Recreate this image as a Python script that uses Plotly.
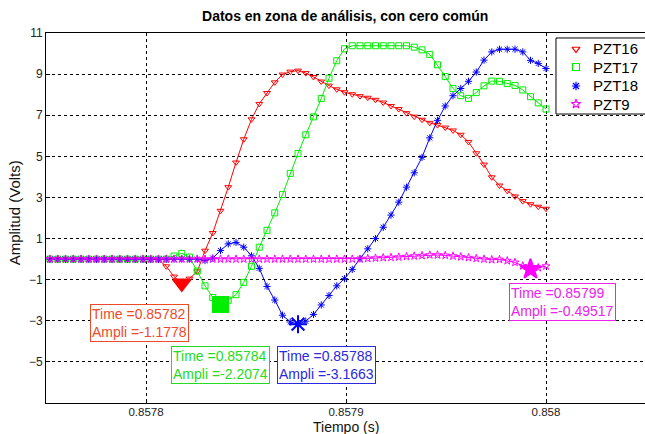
import plotly.graph_objects as go

# ---------------- data ----------------
t_end = 0.858          # last sample time (s)
dt = 3.875e-6          # sampling interval (s)
n_samples = 65

pzt16 = [0.0] * 14 + [
    -0.02, -0.35, -0.85, -1.1778, -0.95, -0.6, 0.41, 1.27, 2.35, 3.5,
    4.7, 5.83, 6.8, 7.55, 8.08, 8.6, 8.98, 9.12, 9.17, 9.05,
    8.86, 8.64, 8.44, 8.26, 8.12, 8.02, 7.93, 7.85, 7.75, 7.62,
    7.45, 7.3, 7.1, 6.93, 6.78, 6.63, 6.52, 6.4, 6.26, 6.05,
    5.7, 5.15, 4.6, 3.98, 3.58, 3.32, 3.05, 2.82, 2.67, 2.55,
    2.45]
pzt17 = [0.0] * 16 + [
    0.15, 0.28, 0.1, -0.58, -1.3, -1.87, -2.2074, -2.0, -1.73, -1.13,
    -0.35, 0.58, 1.4, 2.25, 3.14, 4.17, 5.14, 6.05, 6.92, 7.81,
    8.8, 9.65, 10.23] + [10.38] * 8 + [
    10.31, 10.18, 9.96, 9.45, 8.88, 8.3, 7.95, 7.82, 8.1, 8.43,
    8.66, 8.65, 8.54, 8.45, 8.23, 7.9, 7.6, 7.3]
pzt18 = [0.0] * 20 + [
    -0.07, 0.05, 0.42, 0.74, 0.81, 0.58, 0.16, -0.45, -1.33, -1.99,
    -2.73, -3.06, -3.1663, -3.02, -2.69, -2.23, -1.77, -1.3, -0.95, -0.5,
    0.02, 0.5, 1.0, 1.55, 2.14, 2.77, 3.5, 4.2, 4.95, 5.9,
    6.75, 7.45, 7.95, 8.3, 8.65, 9.1, 9.68, 10.08, 10.21, 10.21,
    10.21, 10.08, 9.67, 9.52, 9.27]
pzt9 = [0.0] * 41 + [
    0.03, 0.05, 0.07, 0.08, 0.1, 0.12, 0.15, 0.17, 0.2, 0.2,
    0.18, 0.15, 0.11, 0.07, 0.03, 0.0, -0.03, -0.02, -0.08, -0.16,
    -0.33, -0.49517, -0.42, -0.34]

time = [t_end - (n_samples - 1 - k) * dt for k in range(n_samples)]

series_names = ["PZT16", "PZT17", "PZT18", "PZT9"]
series_values = [pzt16, pzt17, pzt18, pzt9]
series_colors = ["#ff0000", "#00ee00", "#0000ff", "#ff00ff"]
small_symbols = ["triangle-down-open", "square-open", "asterisk-open", "star-open"]
big_symbols = ["triangle-down", "square", "asterisk-open", "star"]

# data tips (sample index of each marked point) and their labels
tip_index = [17, 22, 32, 62]
tip_time_text = ["0.85782", "0.85784", "0.85788", "0.85799"]
tip_ampl_text = ["-1.1778", "-2.2074", "-3.1663", "-0.49517"]
tip_text_colors = ["#ee4a2a", "#22dd22", "#2a2ae0", "#ee22ee"]
# label box anchor (top-left corner) in data units
tip_box_x = [0.857772, 0.8578125, 0.8578655, 0.8579815]
tip_box_y = [-2.18, -4.23, -4.23, -1.16]

x_range = [0.85775, 0.8580495]
y_range = [-7, 11]
x_ticks = [0.8578, 0.8579, 0.858]
x_tick_text = ["0.8578", "0.8579", "0.858"]
y_ticks = [-5, -3, -1, 1, 3, 5, 7, 9, 11]

# manual legend layout (fractions of the plot area)
legend_box = dict(x0=0.8514, x1=1.002, y0=0.781, y1=0.9865)
legend_marker_x = 0.8848
legend_text_x = 0.9098
legend_rows_y = [0.9568, 0.9081, 0.8568, 0.8081]

FONT = "Liberation Sans, Arial, sans-serif"


def fx(f):
    return x_range[0] + f * (x_range[1] - x_range[0])


def fy(f):
    return y_range[0] + f * (y_range[1] - y_range[0])


fig = go.Figure()

for name, vals, col, sym in zip(series_names, series_values, series_colors, small_symbols):
    fig.add_trace(go.Scatter(
        x=time, y=vals, mode="lines+markers", name=name, showlegend=False,
        line=dict(color=col, width=1),
        marker=dict(symbol=sym, size=6, color=col, line=dict(color=col, width=1)),
    ))

for vals, col, sym, idx in zip(series_values, series_colors, big_symbols, tip_index):
    fig.add_trace(go.Scatter(
        x=[time[idx]], y=[vals[idx]], mode="markers", showlegend=False,
        marker=dict(symbol=sym, size=15, color=col, line=dict(color=col, width=2)),
    ))

# legend box (white, over the grid, under the traces)
fig.add_shape(type="rect", xref="x", yref="y", layer="between",
              x0=fx(legend_box["x0"]), x1=fx(legend_box["x1"]),
              y0=fy(legend_box["y0"]), y1=fy(legend_box["y1"]),
              line=dict(color="black", width=1), fillcolor="white")

# legend markers on an invisible overlay axis in plot-area fractions
for name, col, sym, ly in zip(series_names, series_colors, small_symbols, legend_rows_y):
    fig.add_trace(go.Scatter(
        x=[legend_marker_x], y=[ly], xaxis="x2", yaxis="y2", mode="markers",
        showlegend=False, cliponaxis=False, hoverinfo="skip",
        marker=dict(symbol=sym, size=7, color=col, line=dict(color=col, width=1.2)),
    ))
    fig.add_annotation(x=legend_text_x, y=ly, xref="paper", yref="paper",
                       showarrow=False, xanchor="left", yanchor="middle",
                       text=name, font=dict(family=FONT, size=15, color="black"))

for i in range(4):
    fig.add_annotation(
        x=tip_box_x[i], y=tip_box_y[i], xref="x", yref="y",
        xanchor="left", yanchor="top", showarrow=False, align="left",
        text=f"Time ={tip_time_text[i]}<br>Ampli ={tip_ampl_text[i]}",
        font=dict(family=FONT, size=14, color=tip_text_colors[i]),
        bgcolor="white", bordercolor=tip_text_colors[i], borderwidth=1, borderpad=1,
    )

# axis titles as annotations for exact placement
fig.add_annotation(x=0.5, y=-0.0649, xref="paper", yref="paper", showarrow=False,
                   text="Tiempo (s)", font=dict(family=FONT, size=14, color="#111"),
                   xanchor="center", yanchor="middle")
fig.add_annotation(x=-0.052, y=0.515, xref="paper", yref="paper", showarrow=False,
                   text="Amplitud (Volts)", textangle=-90,
                   font=dict(family=FONT, size=15, color="#111"),
                   xanchor="center", yanchor="middle")

fig.update_layout(
    width=645, height=434,
    margin=dict(l=46, r=0, t=33, b=31),
    paper_bgcolor="white", plot_bgcolor="white",
    title=dict(text="<b>Datos en zona de análisis, con cero común</b>",
               x=0.5352, xanchor="center", y=0.963, yanchor="middle",
               font=dict(family=FONT, size=14, color="black")),
    showlegend=False,
    xaxis=dict(
        range=x_range, tickvals=x_ticks, ticktext=x_tick_text,
        showgrid=True, gridcolor="black", griddash="3px,3px", gridwidth=1,
        showline=True, linecolor="black", linewidth=1, mirror=True,
        ticks="inside", ticklen=4, tickcolor="black", zeroline=False,
        ticklabelstandoff=-2,
        tickfont=dict(family=FONT, size=11.5, color="#222"),
    ),
    yaxis=dict(
        range=y_range, tickvals=y_ticks,
        showgrid=True, gridcolor="black", griddash="3px,3px", gridwidth=1,
        showline=True, linecolor="black", linewidth=1, mirror=True,
        ticks="inside", ticklen=4, tickcolor="black", zeroline=False,
        tickfont=dict(family=FONT, size=12, color="#222"),
    ),
    xaxis2=dict(overlaying="x", range=[0, 1], visible=False, fixedrange=True),
    yaxis2=dict(overlaying="y", range=[0, 1], visible=False, fixedrange=True),
)

fig.write_html("out.html")
